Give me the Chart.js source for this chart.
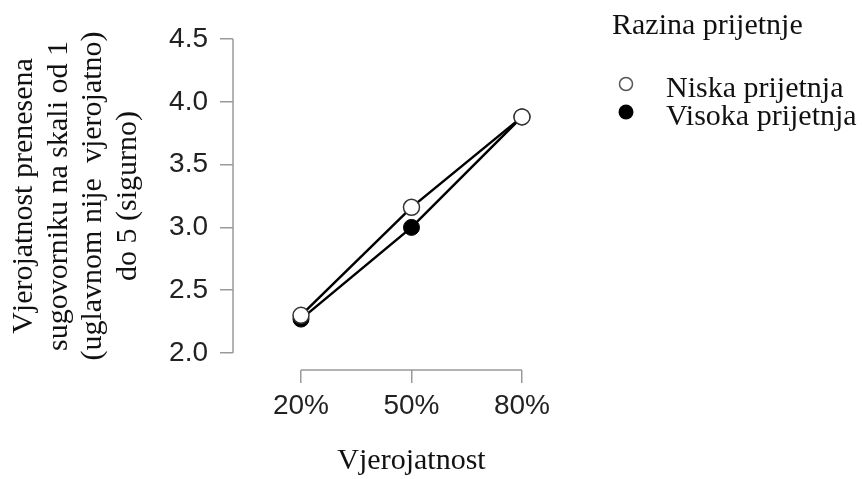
<!DOCTYPE html>
<html>
<head>
<meta charset="utf-8">
<script src="https://cdn.jsdelivr.net/npm/chart.js@4"></script>
<style>
  html, body { margin: 0; padding: 0; background: #fff; }
</style>
</head>
<body>
<canvas id="chart" width="862" height="479"></canvas>
<script>
// data
const probabilities = [20, 50, 80];
const yTicks = [2.0, 2.5, 3.0, 3.5, 4.0, 4.5];
const seriesNames = ['Niska prijetnja', 'Visoka prijetnja'];
const lowThreat = [2.30, 3.16, 3.88];
const highThreat = [2.27, 3.00, 3.88];
const legendTitle = 'Razina prijetnje';
const xTitle = 'Vjerojatnost';
const yTitle = ['Vjerojatnost prenesena', 'sugovorniku na skali od 1', '(uglavnom nije  vjerojatno)', 'do 5 (sigurno)'];

const axisGray = '#9a9a9a';
const serif = '"Liberation Serif", "Times New Roman", serif';

// R-style detached axes, titles and legend
const decorations = {
  id: 'decorations',
  beforeDatasetsDraw(chart) {
    const {ctx, chartArea, scales: {x, y}} = chart;
    ctx.save();
    ctx.strokeStyle = axisGray;
    ctx.lineWidth = 1.5;
    ctx.beginPath();
    ctx.moveTo(chartArea.left, y.getPixelForValue(yTicks[yTicks.length - 1]));
    ctx.lineTo(chartArea.left, y.getPixelForValue(yTicks[0]));
    ctx.moveTo(x.getPixelForValue(probabilities[0]), chartArea.bottom);
    ctx.lineTo(x.getPixelForValue(probabilities[probabilities.length - 1]), chartArea.bottom);
    ctx.stroke();
    ctx.restore();
  },
  afterDraw(chart) {
    const {ctx, scales: {x, y}} = chart;
    ctx.save();
    ctx.fillStyle = '#111';
    ctx.font = '30px ' + serif;

    // x title
    ctx.textAlign = 'center';
    ctx.textBaseline = 'alphabetic';
    const midX = (x.getPixelForValue(probabilities[0]) + x.getPixelForValue(probabilities[2])) / 2;
    ctx.fillText(xTitle, midX, 469);

    // y title, rotated
    const midY = (y.getPixelForValue(yTicks[0]) + y.getPixelForValue(yTicks[yTicks.length - 1])) / 2;
    ctx.save();
    ctx.translate(0, midY);
    ctx.rotate(-Math.PI / 2);
    yTitle.forEach((line, i) => ctx.fillText(line, 0, 32 + i * 34.5));
    ctx.restore();

    // legend
    ctx.textAlign = 'left';
    ctx.fillText(legendTitle, 612, 34);
    chart.data.datasets.forEach((ds, i) => {
      const cy = 84 + i * 28;
      ctx.beginPath();
      ctx.arc(626, cy, i === 0 ? 6.5 : 7.5, 0, Math.PI * 2);
      ctx.fillStyle = ds.pointBackgroundColor;
      ctx.fill();
      ctx.lineWidth = 1.5;
      ctx.strokeStyle = '#555';
      if (i === 0) ctx.stroke();
      ctx.fillStyle = '#111';
      ctx.fillText(ds.label, 666, 97 + i * 28);
    });
    ctx.restore();
  }
};

const tickFont = {family: '"Liberation Sans", Arial, sans-serif', size: 28};

new Chart(document.getElementById('chart'), {
  type: 'line',
  data: {
    datasets: [
      {
        label: seriesNames[0],
        data: probabilities.map((p, i) => ({x: p, y: lowThreat[i]})),
        borderColor: '#000',
        borderWidth: 2.5,
        pointRadius: 8,
        pointBorderWidth: 1.5,
        pointBorderColor: '#333',
        pointBackgroundColor: '#fff'
      },
      {
        label: seriesNames[1],
        data: probabilities.map((p, i) => ({x: p, y: highThreat[i]})),
        borderColor: '#000',
        borderWidth: 2.5,
        pointRadius: 8,
        pointBorderWidth: 1,
        pointBorderColor: '#000',
        pointBackgroundColor: '#000'
      }
    ]
  },
  options: {
    responsive: false,
    animation: false,
    layout: {padding: {left: 133, right: 317, top: 30, bottom: 49}},
    plugins: {legend: {display: false}, tooltip: {enabled: false}},
    scales: {
      x: {
        type: 'linear',
        min: 1.54,
        max: 86.25,
        afterBuildTicks: s => { s.ticks = probabilities.map(v => ({value: v})); },
        afterFit: s => { s.height = 60; },
        border: {display: false},
        grid: {drawOnChartArea: false, drawTicks: true, tickLength: 13, color: axisGray, lineWidth: 1.5},
        ticks: {callback: v => v + '%', font: tickFont, color: '#222', padding: 6, maxRotation: 0, autoSkip: false}
      },
      y: {
        type: 'linear',
        min: 1.8647,
        max: 4.5717,
        afterBuildTicks: s => { s.ticks = yTicks.map(v => ({value: v})); },
        afterFit: s => { s.width = 100; },
        border: {display: false},
        grid: {drawOnChartArea: false, drawTicks: true, tickLength: 13, color: axisGray, lineWidth: 1.5},
        ticks: {callback: v => v.toFixed(1), font: tickFont, color: '#222', padding: 12, autoSkip: false}
      }
    }
  },
  plugins: [decorations]
});
</script>
</body>
</html>
